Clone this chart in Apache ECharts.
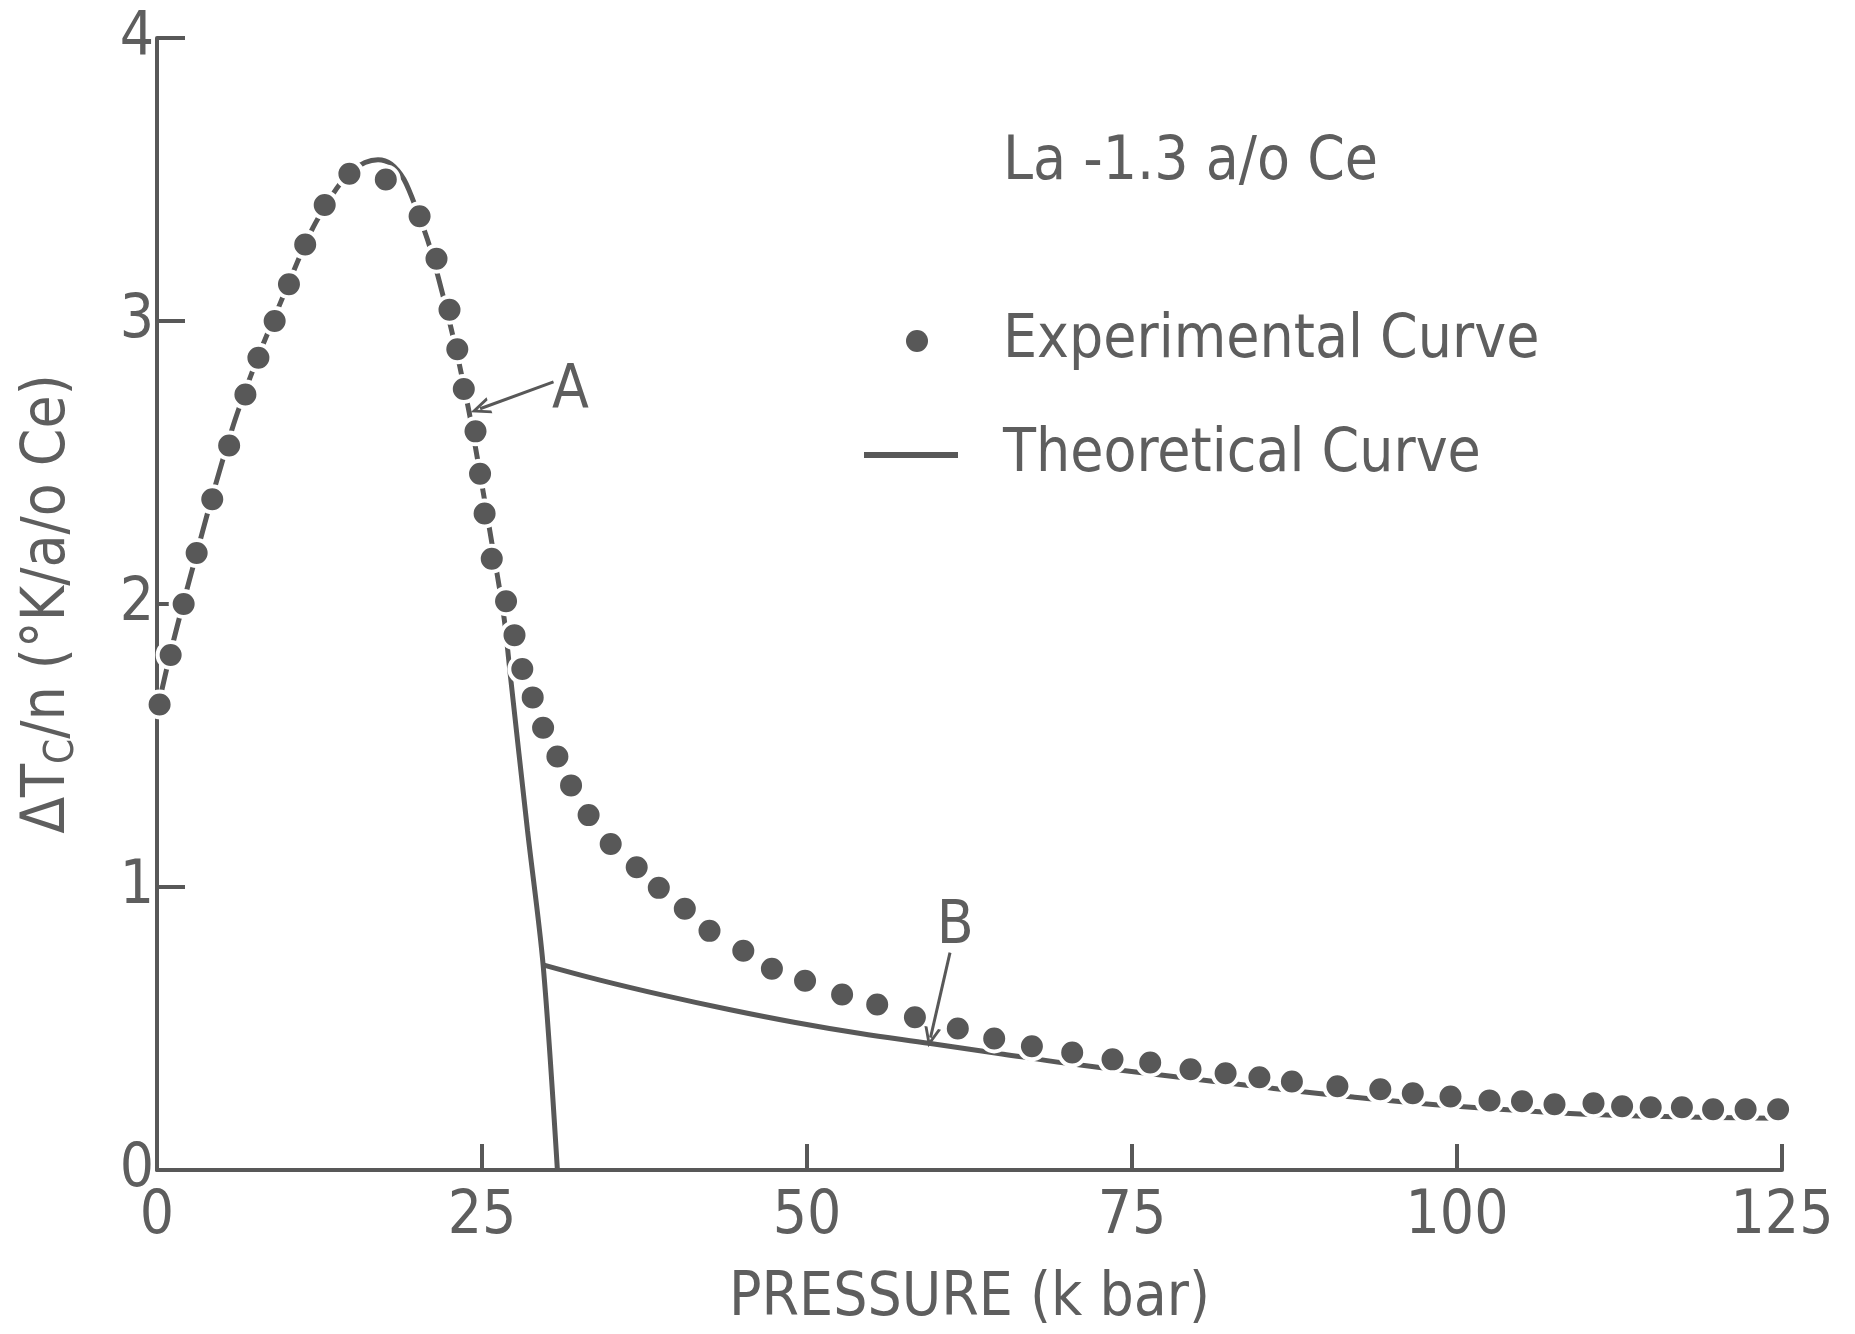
<!DOCTYPE html>
<html>
<head>
<meta charset="utf-8">
<script src="https://cdn.jsdelivr.net/npm/echarts@6/dist/echarts.min.js"></script>
<style>
  html, body { margin: 0; padding: 0; background: #ffffff; }
  #chart { width: 1855px; height: 1334px; }
</style>
</head>
<body>
<div id="chart"></div>
<script>
// Experimental points: pressure (kbar) and ΔTc/n (°K per a/o Ce)
const expPressure = [0.2, 1.05, 2.05, 3.05, 4.25, 5.55, 6.8, 7.8, 9.05, 10.15, 11.4, 12.9, 14.8, 17.6,
  20.2, 21.5, 22.5, 23.1, 23.6, 24.5, 24.85, 25.2, 25.75, 26.85, 27.5, 28.1, 28.9, 29.7, 30.8, 31.85,
  33.2, 34.9, 36.9, 38.6, 40.6, 42.5, 45.1, 47.3, 49.85, 52.7, 55.4, 58.3, 61.6, 64.4, 67.3, 70.4,
  73.5, 76.4, 79.5, 82.2, 84.8, 87.3, 90.8, 94.1, 96.6, 99.5, 102.5, 105.0, 107.5, 110.5, 112.7,
  114.9, 117.3, 119.7, 122.2, 124.7];
const expDeltaTc = [1.645, 1.82, 2.0, 2.18, 2.37, 2.56, 2.74, 2.87, 3.0, 3.13, 3.27, 3.41, 3.52, 3.50,
  3.37, 3.22, 3.04, 2.90, 2.76, 2.61, 2.46, 2.32, 2.16, 2.01, 1.89, 1.77, 1.67, 1.563, 1.461, 1.359,
  1.254, 1.152, 1.07, 0.997, 0.923, 0.845, 0.775, 0.711, 0.669, 0.62, 0.585, 0.54, 0.50, 0.465, 0.437, 0.415,
  0.391, 0.38, 0.356, 0.342, 0.328, 0.313, 0.296, 0.285, 0.271, 0.26, 0.246, 0.243, 0.232, 0.236, 0.225,
  0.222, 0.222, 0.215, 0.215, 0.215];

// Theoretical curve, branch A (peak and steep drop)
const theoryAPressure = [0, 1, 2, 3, 4, 5, 6, 7, 8, 9, 10, 11, 12, 13, 14, 15, 16, 17, 18, 19, 20, 21,
  22, 23, 24, 25, 26, 26.7, 27.2, 28.5, 29.7, 30.8];
const theoryAValue = [1.62, 1.82, 2.0, 2.17, 2.34, 2.50, 2.65, 2.78, 2.90, 3.01, 3.12, 3.23, 3.33, 3.41,
  3.48, 3.53, 3.56, 3.57, 3.555, 3.50, 3.39, 3.26, 3.09, 2.90, 2.68, 2.42, 2.15, 1.95, 1.74, 1.2, 0.725, 0];

// Theoretical curve, branch B (high-pressure tail)
const theoryBPressure = [29.7, 34, 39, 44, 49, 54, 59.5, 65, 70, 77.7, 85, 92, 100, 108.7, 117, 124.9];
const theoryBValue = [0.725, 0.672, 0.617, 0.567, 0.522, 0.483, 0.447, 0.41, 0.377, 0.333, 0.293, 0.258,
  0.225, 0.200, 0.188, 0.183];

// Axis ticks
const pressureTicks = [0, 25, 50, 75, 100, 125];
const deltaTcTicks = [0, 1, 2, 3, 4];

// Annotation arrows: [from pressure, from value, to pressure, to value]
const arrowA = [30.5, 2.785, 24.85, 2.69];
const arrowB = [61.0, 0.768, 59.5, 0.468];
const letterA = [31.8, 2.75];
const letterB = [61.4, 0.856];

const FONT = "'DejaVu Sans Condensed','DejaVu Sans',sans-serif";
const FS = 60;
const INK = '#585858';
const TEXT = '#5e5e5e';

const zip = (xs, ys) => xs.map((x, i) => [x, ys[i]]);
const arrowHead = 'path://M5,0 L10,10 L8.2,10 L5,3.6 L1.8,10 L0,10 Z';
const dotIcon = 'path://M0,0 M134,22 M42,11 A11,11 0 1 1 64,11 A11,11 0 1 1 42,11 Z';
const lineIcon = 'path://M0,0 M134,22 M0,8 L94,8 L94,14 L0,14 Z';

const letterStyle = { fontSize: FS, fontFamily: FONT, color: TEXT };

const chart = echarts.init(document.getElementById('chart'), null, { renderer: 'canvas' });
chart.setOption({
  animation: false,
  backgroundColor: '#ffffff',
  textStyle: { fontFamily: FONT, color: TEXT },
  title: {
    text: 'La -1.3 a/o Ce',
    left: 1003,
    top: 128,
    padding: 0,
    textStyle: { fontSize: FS, fontWeight: 'normal', fontFamily: FONT, color: TEXT, lineHeight: 70 }
  },
  legend: {
    orient: 'vertical',
    left: 864,
    top: 306,
    padding: 0,
    itemWidth: 134,
    itemHeight: 22,
    itemGap: 44,
    textStyle: { fontSize: FS, fontFamily: FONT, color: TEXT, lineHeight: 70 },
    data: [
      { name: 'Experimental Curve', icon: dotIcon, itemStyle: { color: INK, borderWidth: 0 } },
      { name: 'Theoretical Curve', icon: lineIcon, itemStyle: { color: INK, borderWidth: 0 } }
    ]
  },
  grid: { left: 157, right: 73, top: 38, bottom: 160, containLabel: false },
  xAxis: {
    type: 'value',
    min: pressureTicks[0],
    max: pressureTicks[pressureTicks.length - 1],
    interval: pressureTicks[1] - pressureTicks[0],
    name: 'PRESSURE (k bar)',
    nameLocation: 'middle',
    nameGap: 99,
    nameTextStyle: { fontSize: FS, fontFamily: FONT, color: TEXT },
    axisLine: { lineStyle: { color: INK, width: 4 } },
    axisTick: { inside: true, length: 26, lineStyle: { color: INK, width: 4 } },
    axisLabel: { fontSize: FS, fontFamily: FONT, color: TEXT, margin: 17 },
    splitLine: { show: false }
  },
  yAxis: {
    type: 'value',
    min: deltaTcTicks[0],
    max: deltaTcTicks[deltaTcTicks.length - 1],
    interval: deltaTcTicks[1] - deltaTcTicks[0],
    name: 'ΔT{sub|C}/n (°K/a/o Ce)',
    nameLocation: 'middle',
    nameGap: 74,
    nameTextStyle: {
      fontSize: FS, fontFamily: FONT, color: TEXT, lineHeight: 70,
      rich: {
        sub: { fontSize: 40, fontFamily: FONT, color: TEXT, verticalAlign: 'bottom', lineHeight: 40, padding: [30, 0, 0, 0] }
      }
    },
    axisLine: { lineStyle: { color: INK, width: 4 } },
    axisTick: { inside: true, length: 28, lineStyle: { color: INK, width: 4 } },
    axisLabel: { fontSize: FS, fontFamily: FONT, color: TEXT, margin: 3 },
    splitLine: { show: false }
  },
  series: [
    {
      name: 'Theoretical Curve',
      type: 'line',
      data: zip(theoryAPressure, theoryAValue),
      symbol: 'none',
      smooth: 0.3,
      lineStyle: { color: INK, width: 5 },
      itemStyle: { color: INK },
      z: 2,
      markLine: {
        silent: true,
        symbol: ['none', arrowHead],
        symbolSize: [17, 20],
        lineStyle: { color: INK, width: 3, type: 'solid' },
        itemStyle: { color: INK },
        label: { show: false },
        data: [
          [{ coord: [arrowA[0], arrowA[1]] }, { coord: [arrowA[2], arrowA[3]] }],
          [{ coord: [arrowB[0], arrowB[1]] }, { coord: [arrowB[2], arrowB[3]] }]
        ]
      },
      markPoint: {
        silent: true,
        symbol: 'circle',
        symbolSize: 1,
        itemStyle: { color: 'rgba(0,0,0,0)' },
        label: Object.assign({ show: true, position: 'inside' }, letterStyle),
        data: [
          { coord: letterA, label: { formatter: 'A' } },
          { coord: letterB, label: { formatter: 'B' } }
        ]
      }
    },
    {
      name: 'Theoretical Curve',
      type: 'line',
      data: zip(theoryBPressure, theoryBValue),
      symbol: 'none',
      smooth: 0.4,
      lineStyle: { color: INK, width: 5 },
      itemStyle: { color: INK },
      z: 2
    },
    {
      name: 'Experimental Curve',
      type: 'scatter',
      data: zip(expPressure, expDeltaTc),
      symbol: 'circle',
      symbolSize: 26,
      itemStyle: { color: INK, borderColor: '#ffffff', borderWidth: 4, opacity: 1 },
      z: 3
    }
  ]
});
</script>
</body>
</html>
